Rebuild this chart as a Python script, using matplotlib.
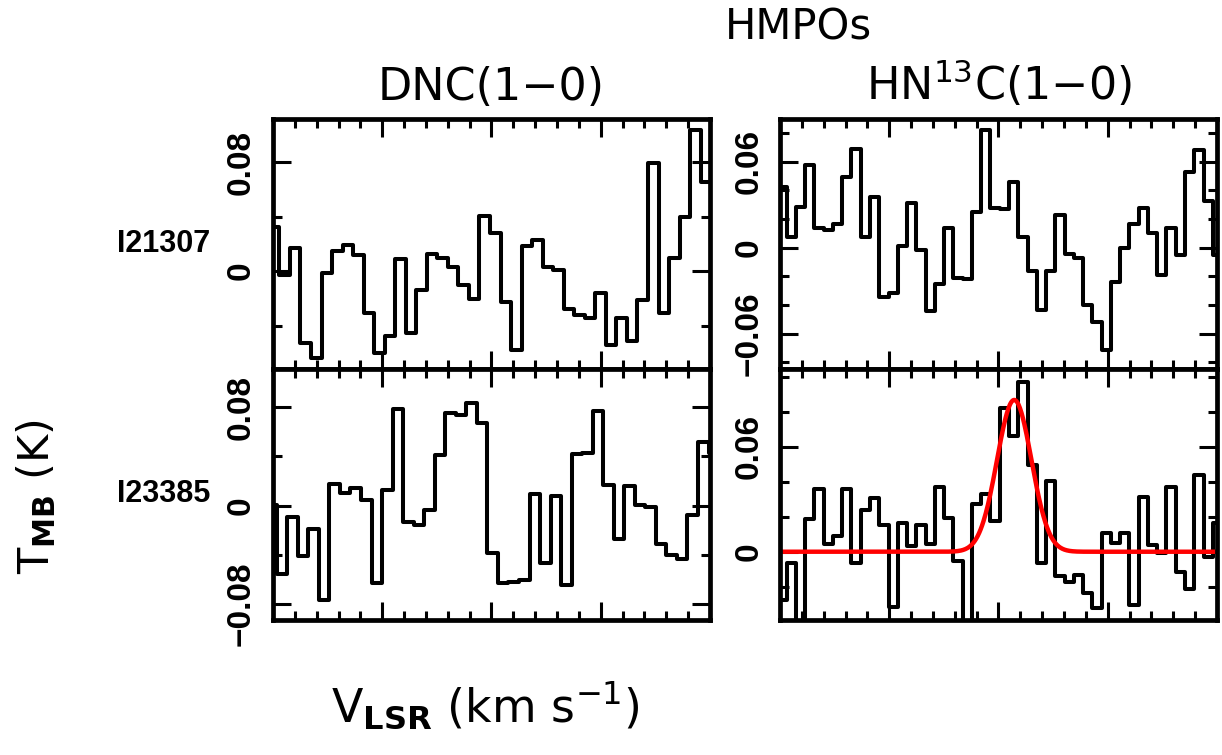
"""
plot.py
-------
DNC(1-0) and HN13C(1-0) spectra towards two HMPOs (I21307, I23385),
with a Gaussian fit to the HN13C detection in I23385.

Outputs:
    out.png
"""

import matplotlib
matplotlib.use("Agg")
import matplotlib.pyplot as plt
import numpy as np
from matplotlib.ticker import MultipleLocator

plt.rcParams["font.family"] = ["DejaVu Sans"]
plt.rcParams["mathtext.fontset"] = "dejavusans"

#  Data (T_MB in K, one value per channel) ########################

DNC_I21307 = [
    0.0324, -0.0029, 0.0166, -0.0529, -0.0639, -0.0017, 0.0146, 0.0190,
    0.0117, -0.0310, -0.0602, -0.0476, 0.0085, -0.0456, -0.0139, 0.0124,
    0.0093, 0.0032, -0.0102, -0.0207, 0.0402, 0.0276, -0.0224, -0.0578,
    0.0183, 0.0227, 0.0032, 0.0007, -0.0280, -0.0322, -0.0346, -0.0159,
    -0.0541, -0.0346, -0.0517, -0.0212, 0.0793, -0.0305, 0.0093, 0.0398,
    0.1032, 0.0654,
]
HN13C_I21307 = [
    0.0426, 0.0077, 0.0287, 0.0578, 0.0135, 0.0123, 0.0165, 0.0492,
    0.0687, 0.0077, 0.0356, -0.0343, -0.0319, 0.0012, 0.0315, -0.0016,
    -0.0443, -0.0256, 0.0140, -0.0210, -0.0219, 0.0252, 0.0822, 0.0280,
    0.0270, 0.0461, 0.0077, -0.0163, -0.0436, -0.0163, 0.0228, -0.0047,
    -0.0070, -0.0401, -0.0522, -0.0715, -0.0242, 0.0000, 0.0163, 0.0275,
    0.0100, -0.0191, 0.0135, -0.0051, 0.0531, 0.0683, 0.0329, -0.0051,
]
DNC_I23385 = [
    0.0005, -0.0552, -0.0090, -0.0408, -0.0190, -0.0764, 0.0174, 0.0106,
    0.0147, 0.0046, -0.0628, 0.0128, 0.0786, -0.0131, -0.0158, -0.0035,
    0.0413, 0.0753, 0.0740, 0.0835, 0.0672, -0.0384, -0.0626, -0.0620,
    -0.0607, 0.0095, -0.0465, 0.0079, -0.0647, 0.0422, 0.0427, 0.0767,
    0.0169, -0.0272, 0.0160, 0.0005, -0.0008, -0.0313, -0.0403, -0.0430,
    -0.0076, 0.0514, 0.0427,
]
HN13C_I23385 = [
    -0.0276, -0.0067, -0.0450, 0.0185, 0.0356, 0.0044, 0.0090, 0.0356,
    -0.0063, 0.0238, 0.0305, 0.0152, -0.0314, 0.0162, 0.0034, 0.0152,
    0.0044, 0.0371, 0.0191, -0.0051, -0.0450, 0.0272, 0.0330, 0.0177,
    0.0819, 0.0661, 0.0972, 0.0495, -0.0063, 0.0406, -0.0139, -0.0171,
    -0.0133, -0.0234, -0.0324, 0.0105, 0.0048, 0.0105, -0.0305, 0.0314,
    0.0038, -0.0010, 0.0368, -0.0114, -0.0215, 0.0438, -0.0032, 0.0162,
]

# channel grids: first channel edge and channel width (km/s)
DNC_I21307_V0 = -10.19
DNC_I23385_V0 = -10.31
HN13C_V0      = -10.12
DNC_DV        = 0.482
HN13C_DV      = 0.424

# Gaussian fit to HN13C(1-0) in I23385
FIT_AMP  = 0.0867
FIT_VC   = 0.72
FIT_FWHM = 1.85

SOURCES = ["I21307", "I23385"]
LINES   = ["DNC(1\u22120)", "HN$^{13}$C(1\u22120)"]

DNC_YTICKS        = [-0.08, 0, 0.08]
DNC_YTICKLABELS   = ["\u22120.08", "0", "0.08"]
HN13C_YTICKS      = [-0.06, 0, 0.06]
HN13C_YTICKLABELS = ["\u22120.06", "0", "0.06"]

TICK_FONT = "Liberation Sans"


#  Helpers ########################################

def channel_edges(v0, dv, n):
    return v0 + dv * np.arange(n + 1)


def style_panel(ax, ylim, yticks, yticklabels, yminor, pad):
    ax.xaxis.set_major_locator(MultipleLocator(5))
    ax.xaxis.set_minor_locator(MultipleLocator(1))
    ax.set_yticks(yticks)
    ax.set_yticklabels(yticklabels)
    ax.yaxis.set_minor_locator(MultipleLocator(yminor))
    # limits after the ticks, so set_yticks does not widen them
    ax.set_xlim(-10, 10)
    ax.set_ylim(*ylim)
    ax.tick_params(which="both", direction="in", top=True, right=True,
                   width=2.2, labelbottom=False)
    ax.tick_params(which="major", length=13)
    ax.tick_params(which="minor", length=6.5)
    ax.tick_params(axis="y", labelsize=24, labelrotation=90, pad=pad)
    for lab in ax.get_yticklabels():
        lab.set_va("center")
        lab.set_fontfamily(TICK_FONT)
        lab.set_fontweight("bold")
    for sp in ax.spines.values():
        sp.set_linewidth(3.4)


def draw_spectrum(ax, values, v0, dv):
    ax.stairs(values, channel_edges(v0, dv, len(values)),
              color="black", linewidth=2.9, joinstyle="round")


#  Main ##################################

def main() -> None:
    fig = plt.figure(figsize=(12.22, 7.55), dpi=100)

    left_x, right_x, width = 0.2234, 0.6383, 0.3576
    top_y, top_h = 0.5113, 0.3311
    bot_y, bot_h = 0.1788, 0.3325

    ax_tl = fig.add_axes([left_x, top_y, width, top_h])
    ax_tr = fig.add_axes([right_x, top_y, width, top_h])
    ax_bl = fig.add_axes([left_x, bot_y, width, bot_h])
    ax_br = fig.add_axes([right_x, bot_y, width, bot_h])

    draw_spectrum(ax_tl, DNC_I21307, DNC_I21307_V0, DNC_DV)
    draw_spectrum(ax_tr, HN13C_I21307, HN13C_V0, HN13C_DV)
    draw_spectrum(ax_bl, DNC_I23385, DNC_I23385_V0, DNC_DV)
    draw_spectrum(ax_br, HN13C_I23385, HN13C_V0, HN13C_DV)

    # Gaussian fit
    v = np.linspace(-10, 10, 600)
    sigma = FIT_FWHM / (2 * np.sqrt(2 * np.log(2)))
    ax_br.plot(v, FIT_AMP * np.exp(-0.5 * ((v - FIT_VC) / sigma) ** 2),
               color="red", linewidth=3.2, solid_capstyle="butt")

    style_panel(ax_tl, (-0.0719, 0.1116), DNC_YTICKS, DNC_YTICKLABELS, 0.04, 12)
    style_panel(ax_bl, (-0.093, 0.1112), DNC_YTICKS, DNC_YTICKLABELS, 0.04, 12)
    style_panel(ax_tr, (-0.0848, 0.090), HN13C_YTICKS, HN13C_YTICKLABELS, 0.02, 11)
    style_panel(ax_br, (-0.039, 0.1044), HN13C_YTICKS, HN13C_YTICKLABELS, 0.02, 11)

    # Labels
    fig.text(0.653, 0.964, "HMPOs", ha="center", va="center", fontsize=30)
    fig.text(left_x + width / 2, 0.8675, LINES[0], ha="center",
             va="baseline", fontsize=32)
    fig.text(right_x + width / 2, 0.8675, LINES[1], ha="center",
             va="baseline", fontsize=32)

    fig.text(0.1718, top_y + top_h / 2, SOURCES[0], ha="right",
             va="center", fontsize=22, fontweight="bold",
             fontfamily=TICK_FONT)
    fig.text(0.1718, bot_y + bot_h / 2, SOURCES[1], ha="right",
             va="center", fontsize=22, fontweight="bold",
             fontfamily=TICK_FONT)

    fig.text(0.0295, 0.3417, r"T$_{\mathbf{MB}}$ (K)", rotation=90,
             ha="center", va="center", fontsize=31)
    fig.text(0.397, 0.0437, r"V$_{\mathbf{LSR}}$ (km s$^{-1}$)",
             ha="center", va="baseline", fontsize=33)

    fig.savefig("out.png", dpi=100)
    plt.close(fig)


if __name__ == "__main__":
    main()
